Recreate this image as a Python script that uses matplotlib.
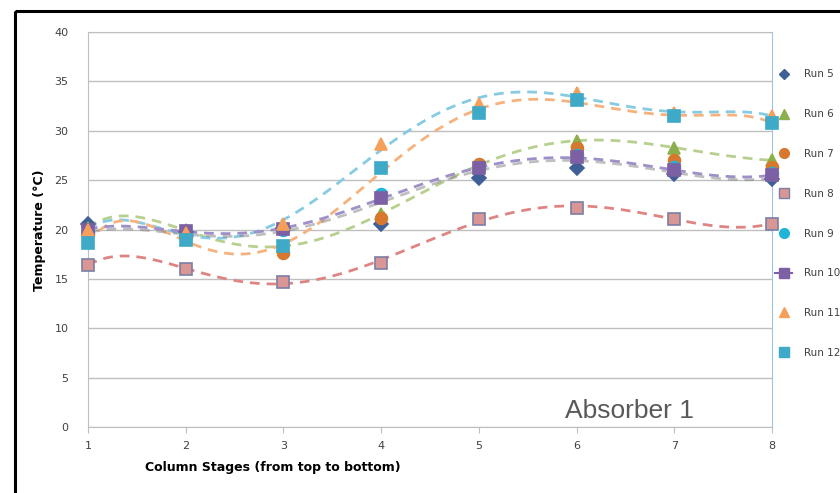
#Imports y config
import numpy as np
import matplotlib.pyplot as plt
import matplotlib.patheffects as pe
from matplotlib.patches import Rectangle
from matplotlib.lines import Line2D

OUT_FILE="out.png"

#Datos
stages=[1,2,3,4,5,6,7,8]
runs=["Run 5","Run 6","Run 7","Run 8","Run 9","Run 10","Run 11","Run 12"]

run5 =[20.6,19.7,20.2,20.6,25.2,26.2,25.6,25.1]
run6 =[20.2,19.9,18.3,21.6,26.5,29.0,28.3,27.0]
run7 =[19.5,19.2,17.6,21.2,26.6,28.3,27.0,26.3]
run8 =[16.4,16.0,14.7,16.6,21.1,22.2,21.1,20.6]
run9 =[19.8,19.5,20.0,23.6,26.3,27.5,26.3,25.7]
run10=[20.0,19.8,20.1,23.2,26.2,27.3,26.0,25.5]
run11=[20.0,19.6,20.6,28.7,32.7,33.8,31.8,31.5]
run12=[18.6,18.9,18.3,26.2,31.8,33.1,31.5,30.8]

y_ticks=[0,5,10,15,20,25,30,35,40]

# estilos: marker, color relleno, color borde, size
styles={
    "Run 5":("D","#3F5F97","#3F5F97",7),
    "Run 6":("^","#8BAF4A","#8BAF4A",8.5),
    "Run 7":("o","#D7782E","#D7782E",8.5),
    "Run 8":("s","#D99694","#7A7FA6",8.5),
    "Run 9":("o","#1FB4D8","#1FB4D8",8.5),
    "Run 10":("s","#7D60A4","#7D60A4",8.5),
    "Run 11":("^","#F4A05A","#F4A05A",8.5),
    "Run 12":("s","#3FA9C8","#3FA9C8",8.5),
}
# lineas de tendencia (polinomio, como en Excel)
trends={
    "Run 8":"#DE8584",
    "Run 6":"#B7D08E",
    "Run 11":"#86CBE2",
    "Run 12":"#F6B27E",
    "Run 10":"#9E8FC8",
}

series=dict(zip(runs,[run5,run6,run7,run8,run9,run10,run11,run12]))

fig=plt.figure(figsize=(8.4,4.93),dpi=100)
ax=fig.add_axes([88/840,1-427/493,(772-88)/840,(427-32)/493])

# marco negro (se sale del canvas)
fig.add_artist(Rectangle((15/840,1-11/493),1.2,-1.2,transform=fig.transFigure,
                         fill=False,edgecolor="black",linewidth=2.2))

xs=np.linspace(1,8,300)
for name,col in trends.items():
    coef=np.polyfit(stages,series[name],6)
    ln,=ax.plot(xs,np.polyval(coef,xs),linestyle=(0,(3.5,2.5)),color=col,linewidth=2,zorder=2)
    if name=="Run 10":
        ln.set_path_effects([pe.SimpleLineShadow(offset=(1.5,-2),shadow_color="gray",alpha=0.5),pe.Normal()])

handles=[]
for name in runs:
    m,fc,ec,ms=styles[name]
    ax.plot(stages,series[name],linestyle="none",marker=m,markersize=ms,
            markerfacecolor=fc,markeredgecolor=ec,markeredgewidth=1.2,clip_on=False,zorder=3)
    if name=="Run 10":
        h=Line2D([],[],color=fc,marker=m,markersize=ms-1,linewidth=1.5,markerfacecolor=fc,markeredgecolor=ec)
    else:
        h=Line2D([],[],linestyle="none",marker=m,markersize=ms-1.5,markerfacecolor=fc,markeredgecolor=ec)
    handles.append(h)

ax.set_xlim(1,8)
ax.set_ylim(0,40)
ax.set_xticks(stages)
ax.set_yticks(y_ticks)
ax.grid(axis="y",color="#BFBFBF",linewidth=1)
ax.set_axisbelow(True)
for s in ["left","bottom","top"]:
    ax.spines[s].set_color("#BFBFBF")
ax.spines["right"].set_color("#9DC3E6")
ax.tick_params(axis="x",length=4,color="#BFBFBF",labelsize=8,labelcolor="#404040",pad=6)
ax.tick_params(axis="y",length=0,labelsize=8,labelcolor="#404040",pad=14)

fig.text(40/840,1-230/493,"Temperature (°C)",rotation=90,ha="center",va="center",
         fontsize=9,fontweight="bold",color="black")
fig.text(273/840,1-468/493,"Column Stages (from top to bottom)",ha="center",va="center",
         fontsize=9,fontweight="bold",color="black")
fig.text(565/840,1-418/493,"Absorber 1",ha="left",va="baseline",fontsize=19,
         color="#595959",family=["Liberation Sans","DejaVu Sans"])

leg=ax.legend(handles,runs,loc="upper left",bbox_to_anchor=(766/840,1-60/493),
              bbox_transform=fig.transFigure,frameon=False,fontsize=7.5,
              labelspacing=2.86,handlelength=1.6,handletextpad=1.1)
for t in leg.get_texts():
    t.set_color("#404040")

fig.savefig(OUT_FILE,dpi=100)
